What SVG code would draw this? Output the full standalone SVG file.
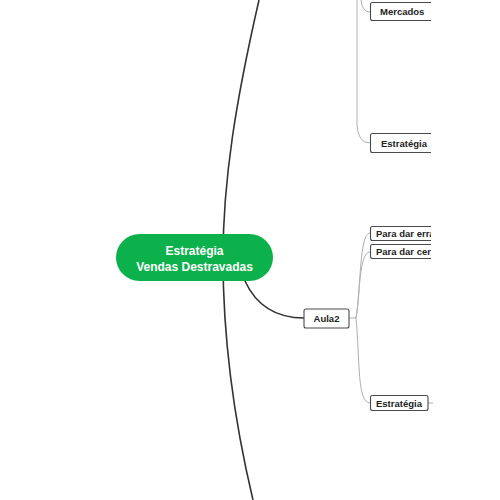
<svg xmlns="http://www.w3.org/2000/svg" width="500" height="500" viewBox="0 0 500 500">
<style>
.main{fill:none;stroke:#333;stroke-width:1.6}
.sub{fill:none;stroke:#b0b0b0;stroke-width:1}
.box{fill:#fff;stroke:#4a4a4a;stroke-width:1.1}
.t{font-family:"Liberation Sans",Arial,sans-serif;font-weight:bold;font-size:9.5px;fill:#222}
.ct{font-family:"Liberation Sans",Arial,sans-serif;font-weight:bold;font-size:12px;fill:#fff;text-anchor:middle}
</style>
<defs>
<clipPath id="clip"><rect x="0" y="0" width="431" height="500"/></clipPath>
</defs>
<rect width="500" height="500" fill="#fff"/>
<g id="connectors">
<path class="main" d="M259,0 C236,100 223,180 223,258 C223,340 234,420 253,500"/>
<path class="main" d="M245,281 Q262,318 304,318"/>
<path class="sub" d="M349,318 L356,318"/>
<path class="sub" d="M356,318 C361,290 359,233 370,233"/>
<path class="sub" d="M356,318 C360,295 359,252 370,252"/>
<path class="sub" d="M356,318 C360,360 357,403 370,403"/>
<path class="sub" d="M357,0 L357,125 Q358,143 370,143"/>
<path class="sub" d="M361,0 Q362,12 370,12"/>
<path class="sub" d="M428,403 L433,403"/>
</g>
<g id="central">
<rect x="116" y="234" width="157" height="47" rx="23.5" fill="#0db14b"/>
<text class="ct" x="194.5" y="255">Estratégia</text>
<text class="ct" x="194.5" y="271">Vendas Destravadas</text>
</g>
<g id="aula2">
<rect class="box" x="304" y="309" width="45" height="19" rx="2"/>
<text class="t" x="326.5" y="322" text-anchor="middle">Aula2</text>
</g>
<g clip-path="url(#clip)">
<g id="mercados">
<rect class="box" x="370.5" y="2.5" width="70" height="18" rx="2"/>
<text class="t" x="380" y="15">Mercados</text>
</g>
<g id="estrategia1">
<rect class="box" x="370.5" y="133.5" width="70" height="19" rx="2"/>
<text class="t" x="381" y="147">Estratégia</text>
</g>
<g id="para-errar">
<rect class="box" x="370.5" y="226.5" width="70" height="14" rx="2"/>
<text class="t" x="376" y="237">Para dar errado</text>
</g>
<g id="para-certo">
<rect class="box" x="370.5" y="244.5" width="70" height="14" rx="2"/>
<text class="t" x="376" y="255">Para dar certo</text>
</g>
<g id="estrategia2">
<rect class="box" x="370.5" y="395.5" width="57.5" height="15" rx="2"/>
<text class="t" x="376" y="407">Estratégia</text>
</g>
</g>
</svg>
